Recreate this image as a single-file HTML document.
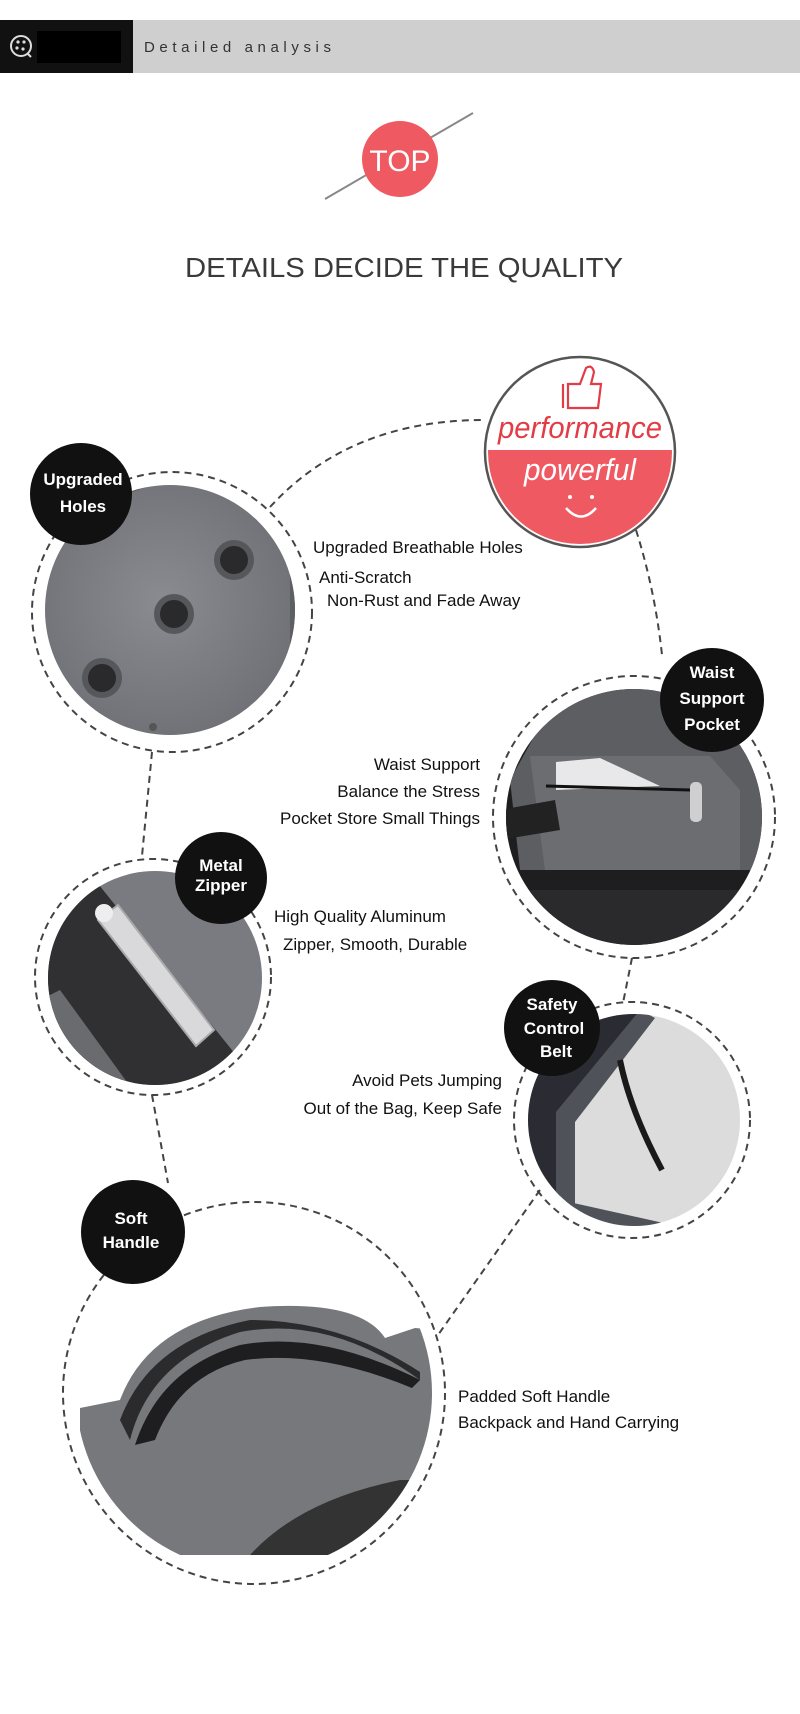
<!DOCTYPE html>
<html><head><meta charset="utf-8"><style>
html,body{margin:0;padding:0;background:#fff;width:800px;height:1714px;overflow:hidden}
svg{display:block}
text{font-family:"Liberation Sans",sans-serif}
</style></head><body>
<svg width="800" height="1714" viewBox="0 0 800 1714" xmlns="http://www.w3.org/2000/svg">
<defs>
<clipPath id="c1"><circle cx="170" cy="610" r="125"/></clipPath>
<clipPath id="c2"><circle cx="634" cy="817" r="128"/></clipPath>
<clipPath id="c3"><circle cx="155" cy="978" r="107"/></clipPath>
<clipPath id="c4"><circle cx="634" cy="1120" r="106"/></clipPath>
<clipPath id="c5"><circle cx="254" cy="1393" r="178"/></clipPath>
<clipPath id="pc"><circle cx="580" cy="452" r="92"/></clipPath>
<radialGradient id="g1" cx="0.45" cy="0.45" r="0.6"><stop offset="0" stop-color="#8a8b90"/><stop offset="1" stop-color="#6c6d72"/></radialGradient>
</defs>

<rect x="0" y="20" width="800" height="53" fill="#cfcfcf"/>
<rect x="0" y="20" width="133" height="53" fill="#111"/>
<rect x="37" y="31" width="84" height="32" fill="#000"/>
<circle cx="21" cy="46" r="10" fill="none" stroke="#ddd" stroke-width="2"/>
<circle cx="18" cy="42" r="1.6" fill="#ddd"/><circle cx="24" cy="42" r="1.6" fill="#ddd"/><circle cx="17" cy="48" r="1.6" fill="#ddd"/><circle cx="23" cy="49" r="1.6" fill="#ddd"/>
<line x1="27" y1="53" x2="31" y2="57" stroke="#ddd" stroke-width="2"/>
<text x="144" y="52" font-size="15" fill="#333" letter-spacing="4.6">Detailed analysis</text>

<line x1="325" y1="199" x2="473" y2="113" stroke="#888" stroke-width="2"/>
<circle cx="400" cy="159" r="38" fill="#ef5a62"/>
<text x="400" y="171" font-size="30" fill="#fff" text-anchor="middle">TOP</text>

<text x="185" y="277" font-size="28" fill="#3a3a3a" textLength="438" lengthAdjust="spacingAndGlyphs">DETAILS DECIDE THE QUALITY</text>

<g fill="none" stroke="#444" stroke-width="2" stroke-dasharray="7,5">
<path d="M270 507 Q 350 420 484 420"/>
<path d="M636 530 Q 655 590 662 655"/>
<path d="M152 752 L 142 856"/>
<path d="M632 958 L 623 1003"/>
<path d="M152 1095 L 168 1183"/>
<path d="M540 1190 L 438 1335"/>
<circle cx="172" cy="612" r="140"/>
<circle cx="634" cy="817" r="141"/>
<circle cx="153" cy="977" r="118"/>
<circle cx="632" cy="1120" r="118"/>
<circle cx="254" cy="1393" r="191"/>
</g>

<g clip-path="url(#c1)">
<rect x="40" y="480" width="270" height="270" fill="url(#g1)"/>
<path d="M40 560 Q 100 490 180 480 L 180 470 L 40 470Z" fill="#555"/>
<rect x="290" y="480" width="20" height="270" fill="#5e5f63"/>
<g fill="#2a2a2c" stroke="#56575b" stroke-width="6">
<circle cx="234" cy="560" r="17"/><circle cx="174" cy="614" r="17"/><circle cx="102" cy="678" r="17"/>
</g>
<circle cx="153" cy="727" r="4" fill="#555"/>
</g>

<g clip-path="url(#c2)">
<rect x="500" y="680" width="270" height="270" fill="#1e1e20"/>
<path d="M560 690 L 700 680 L 770 760 L 770 870 L 520 870 L 510 780Z" fill="#5d5e62"/>
<path d="M530 756 L 710 756 L 740 790 L 740 870 L 545 870Z" fill="#6c6d71"/>
<path d="M556 762 L 600 758 L 660 786 L 556 790Z" fill="#e8e8ea"/>
<line x1="546" y1="786" x2="690" y2="790" stroke="#111" stroke-width="3"/>
<rect x="690" y="782" width="12" height="40" rx="5" fill="#cfcfd2"/>
<path d="M500 810 L 555 800 L 560 830 L 500 840Z" fill="#222"/>
<rect x="500" y="890" width="270" height="60" fill="#2a2a2c"/>
</g>

<g clip-path="url(#c3)">
<rect x="40" y="860" width="240" height="240" fill="#7a7b80"/>
<path d="M40 930 L 95 880 L 240 1060 L 200 1100 L 40 1100Z" fill="#303033"/>
<path d="M40 1000 L 60 990 L 140 1100 L 40 1100Z" fill="#6a6b6f"/>
<path d="M98 920 L 118 905 L 214 1030 L 196 1046Z" fill="#d9d9dc" stroke="#aaa" stroke-width="2"/>
<circle cx="104" cy="913" r="9" fill="#eee"/>
</g>

<g clip-path="url(#c4)">
<rect x="520" y="1010" width="230" height="230" fill="#dcdcdc"/>
<path d="M520 1010 L 640 1010 L 560 1115 L 560 1240 L 520 1240Z" fill="#2b2c33"/>
<path d="M640 1010 L 655 1018 L 575 1122 L 575 1240 L 556 1240 L 556 1112Z" fill="#4f5359"/>
<path d="M560 1200 L 740 1240 L 560 1240Z" fill="#4f5359"/>
<path d="M620 1060 Q 630 1110 662 1170" stroke="#1a1a1a" stroke-width="6" fill="none"/>
</g>

<g clip-path="url(#c5)">
<path d="M80 1408 L 120 1400 Q 150 1320 260 1307 Q 360 1300 385 1338 L 415 1328 L 440 1330 L 440 1555 L 80 1555Z" fill="#77787c"/>
<path d="M130 1440 Q 150 1360 240 1332 Q 330 1315 420 1380 L 420 1372 Q 340 1320 250 1320 Q 150 1340 120 1420Z" fill="#2b2b2d"/>
<path d="M135 1445 Q 160 1368 240 1345 Q 320 1330 420 1380 L 412 1388 Q 320 1350 245 1360 Q 180 1375 155 1440Z" fill="#1e1e20"/>
<path d="M250 1555 Q 300 1500 400 1480 L 440 1480 L 440 1555Z" fill="#333"/>
</g>

<circle cx="580" cy="452" r="95" fill="#fff" stroke="#555" stroke-width="2.5"/>
<g clip-path="url(#pc)"><rect x="480" y="450" width="200" height="110" fill="#ef5a62"/></g>
<path d="M563 384 L 563 408 M568 384 L 580 384 L 586 368 Q 592 364 594 372 L 591 384 L 601 384 L 598 408 L 568 408Z" fill="none" stroke="#e23d47" stroke-width="2.2"/>
<text x="580" y="438" font-family="Liberation Serif,serif" font-style="italic" font-size="31" fill="#e23d47" text-anchor="middle" textLength="164" lengthAdjust="spacingAndGlyphs">performance</text>
<text x="580" y="480" font-family="Liberation Serif,serif" font-style="italic" font-size="31" fill="#fff" text-anchor="middle" textLength="112" lengthAdjust="spacingAndGlyphs">powerful</text>
<circle cx="570" cy="497" r="2" fill="#fff"/><circle cx="592" cy="497" r="2" fill="#fff"/>
<path d="M566 508 Q 581 525 596 508" fill="none" stroke="#fff" stroke-width="2.5"/>

<g fill="#111">
<circle cx="81" cy="494" r="51"/>
<circle cx="712" cy="700" r="52"/>
<circle cx="221" cy="878" r="46"/>
<circle cx="552" cy="1028" r="48"/>
<circle cx="133" cy="1232" r="52"/>
</g>
<g fill="#fff" font-size="17" font-weight="bold" text-anchor="middle">
<text x="83" y="485">Upgraded</text><text x="83" y="512">Holes</text>
<text x="712" y="678">Waist</text><text x="712" y="704">Support</text><text x="712" y="730">Pocket</text>
<text x="221" y="871">Metal</text><text x="221" y="891">Zipper</text>
<text x="552" y="1010">Safety</text><text x="554" y="1034">Control</text><text x="556" y="1057">Belt</text>
<text x="131" y="1224">Soft</text><text x="131" y="1248">Handle</text>
</g>

<g fill="#111" font-size="17">
<text x="313" y="553">Upgraded Breathable Holes</text>
<text x="319" y="583">Anti-Scratch</text>
<text x="327" y="606">Non-Rust and Fade Away</text>
<g text-anchor="end">
<text x="480" y="770">Waist Support</text>
<text x="480" y="797">Balance the Stress</text>
<text x="480" y="824">Pocket Store Small Things</text>
<text x="502" y="1086">Avoid Pets Jumping</text>
<text x="502" y="1114">Out of the Bag, Keep Safe</text>
</g>
<text x="274" y="922">High Quality Aluminum</text>
<text x="283" y="950">Zipper, Smooth, Durable</text>
<text x="458" y="1402">Padded Soft Handle</text>
<text x="458" y="1428">Backpack and Hand Carrying</text>
</g>
</svg>
</body></html>
